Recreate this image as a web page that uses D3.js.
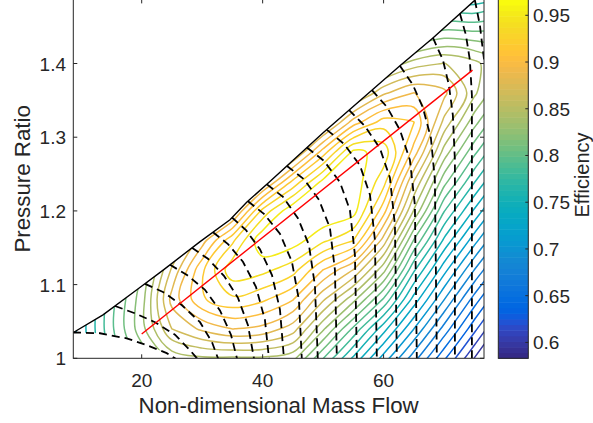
<!DOCTYPE html>
<html>
<head>
<meta charset="utf-8">
<title>Compressor map</title>
<script src="https://cdn.jsdelivr.net/npm/d3@7"></script>
<style>
  body { margin: 0; background: #fff; }
  svg text { font-family: "Liberation Sans", Arial, Helvetica, sans-serif; fill: #262626; }
</style>
</head>
<body>
<svg id="chart" width="593" height="423"></svg>
<script>
// ---------------- data ----------------
const xTicks = [20, 40, 60];
const yTicks = [1, 1.1, 1.2, 1.3, 1.4];
const cbTicks = [0.6, 0.65, 0.7, 0.75, 0.8, 0.85, 0.9, 0.95];
const effRange = [0.583, 0.967];
// 30 contour levels between min and max efficiency
const levels = [0.5954, 0.6078, 0.6202, 0.6326, 0.6450, 0.6573, 0.6697, 0.6821, 0.6945, 0.7069,
                0.7193, 0.7317, 0.7440, 0.7564, 0.7688, 0.7812, 0.7936, 0.8060, 0.8184, 0.8308,
                0.8431, 0.8555, 0.8679, 0.8803, 0.8927, 0.9051, 0.9175, 0.9298, 0.9422, 0.9546];

// efficiency on a regular grid (rows = pressure ratio, cols = mass flow)
const gridFlow = [5, 10, 15, 20, 25, 30, 35, 40, 45, 50, 55, 60, 65, 70, 75, 80];
const gridPR = [0.96, 1.00, 1.04, 1.08, 1.12, 1.16, 1.20, 1.24, 1.28, 1.32, 1.36, 1.40, 1.44, 1.48, 1.52];
const efficiency = [
  [.707,.738,.769,.781,.800,.806,.800,.794,.787,.750,.713,.676,.639,.602,.564,.527],
  [.713,.747,.784,.810,.835,.841,.841,.841,.835,.794,.754,.714,.675,.635,.595,.556],
  [.714,.750,.791,.826,.868,.883,.893,.889,.874,.833,.791,.749,.707,.665,.624,.583],
  [.711,.747,.789,.825,.885,.916,.927,.920,.906,.870,.835,.792,.739,.695,.652,.613],
  [.704,.740,.781,.818,.870,.915,.951,.946,.935,.905,.880,.835,.771,.724,.682,.642],
  [.697,.732,.771,.810,.849,.887,.927,.965,.961,.945,.930,.875,.805,.754,.712,.672],
  [.690,.723,.760,.797,.825,.856,.874,.934,.965,.967,.960,.910,.842,.782,.742,.702],
  [.682,.714,.749,.785,.800,.825,.825,.872,.920,.958,.963,.935,.868,.811,.770,.732],
  [.675,.706,.738,.773,.775,.794,.781,.812,.862,.911,.958,.950,.900,.838,.797,.760],
  [.667,.697,.727,.760,.750,.763,.738,.756,.806,.856,.899,.924,.918,.864,.823,.787],
  [.660,.688,.716,.748,.725,.732,.695,.701,.750,.800,.847,.878,.893,.884,.846,.812],
  [.652,.680,.704,.735,.701,.701,.657,.645,.695,.744,.794,.831,.849,.856,.847,.828],
  [.645,.671,.693,.723,.676,.670,.620,.595,.639,.688,.740,.781,.800,.812,.810,.810],
  [.638,.662,.682,.711,.651,.639,.583,.546,.583,.633,.687,.732,.750,.769,.769,.775],
  [.630,.654,.671,.698,.626,.608,.546,.496,.527,.577,.633,.682,.701,.725,.728,.738]
];

// surge line
const surgeFlow = [8.7, 13.6, 19.2, 23.6, 29.6, 34.6, 37.4, 41.2, 50.0, 62.7, 68.2, 75.1];
const surgePR = [1.035, 1.059, 1.093, 1.120, 1.158, 1.188, 1.212, 1.240, 1.306, 1.397, 1.435, 1.486];

// peak efficiency line
const peakFlow = [20, 74.7];
const peakPR = [1.033, 1.391];

// speed lines [flow, PR]
const speedLines = [
  [[8.64,1.035],[13.11,1.034],[17.52,1.027],[20.83,1.018],[24.13,1.007],[25.5,1.0],[26.0,0.995]],
  [[15.59,1.071],[18.89,1.061],[22.2,1.049],[25.5,1.032],[27.98,1.011],[29.14,1.0],[29.5,0.995]],
  [[20.55,1.101],[23.52,1.090],[26.66,1.072],[29.64,1.049],[31.62,1.022],[32.61,1.0],[32.78,0.995]],
  [[24.68,1.127],[27.49,1.113],[30.46,1.093],[32.94,1.065],[34.76,1.032],[35.75,1.0],[35.92,0.995]],
  [[28.31,1.150],[30.96,1.135],[33.6,1.112],[35.92,1.082],[37.57,1.045],[38.56,1.0],[38.73,0.995]],
  [[31.79,1.171],[34.27,1.155],[36.74,1.131],[38.89,1.097],[40.38,1.052],[41.04,1.0],[41.12,0.995]],
  [[34.93,1.191],[37.24,1.174],[39.55,1.148],[41.54,1.113],[42.86,1.066],[43.57,0.995]],
  [[37.57,1.213],[40.21,1.196],[42.86,1.169],[44.84,1.131],[46.0,1.079],[46.5,0.995]],
  [[40.71,1.236],[43.36,1.219],[45.83,1.190],[47.65,1.154],[48.64,1.099],[49.14,0.995]],
  [[44.02,1.261],[46.83,1.243],[49.31,1.215],[51.12,1.177],[51.95,1.120],[52.28,0.995]],
  [[47.32,1.286],[50.13,1.268],[52.78,1.239],[54.43,1.201],[55.26,1.140],[55.59,0.995]],
  [[50.63,1.310],[53.44,1.291],[56.08,1.262],[57.74,1.222],[58.56,1.161],[58.89,0.995]],
  [[54.26,1.337],[56.91,1.315],[59.39,1.285],[61.04,1.245],[61.87,1.181],[62.2,0.995]],
  [[58.07,1.364],[60.55,1.341],[62.69,1.310],[64.35,1.269],[65.17,1.208],[65.5,0.995]],
  [[62.69,1.397],[64.84,1.371],[66.5,1.340],[67.82,1.299],[68.48,1.242],[68.81,0.995]],
  [[68.15,1.435],[69.8,1.405],[70.79,1.371],[71.45,1.330],[71.79,1.268],[71.79,0.995]],
  [[72.61,1.468],[73.6,1.439],[74.26,1.405],[74.6,1.357],[74.6,0.995]],
  [[75.09,1.486],[75.92,1.452],[76.41,1.418],[77.07,1.378]]
];

// parula colormap (64)
const parula = [
[0.2081,0.1663,0.5292],[0.2116,0.1898,0.5777],[0.2123,0.2138,0.6270],[0.2081,0.2386,0.6771],
[0.1959,0.2645,0.7279],[0.1707,0.2919,0.7792],[0.1253,0.3242,0.8303],[0.0591,0.3598,0.8683],
[0.0117,0.3875,0.8820],[0.0060,0.4086,0.8828],[0.0165,0.4266,0.8786],[0.0329,0.4430,0.8720],
[0.0498,0.4586,0.8641],[0.0629,0.4737,0.8554],[0.0723,0.4887,0.8467],[0.0779,0.5040,0.8384],
[0.0793,0.5200,0.8312],[0.0749,0.5375,0.8263],[0.0641,0.5570,0.8240],[0.0488,0.5772,0.8228],
[0.0343,0.5966,0.8199],[0.0265,0.6137,0.8135],[0.0239,0.6287,0.8038],[0.0231,0.6418,0.7913],
[0.0228,0.6535,0.7768],[0.0267,0.6642,0.7607],[0.0384,0.6743,0.7436],[0.0590,0.6838,0.7254],
[0.0843,0.6928,0.7062],[0.1133,0.7015,0.6859],[0.1453,0.7098,0.6646],[0.1801,0.7177,0.6424],
[0.2178,0.7250,0.6193],[0.2586,0.7317,0.5954],[0.3022,0.7376,0.5712],[0.3482,0.7424,0.5473],
[0.3953,0.7459,0.5244],[0.4420,0.7481,0.5033],[0.4871,0.7491,0.4840],[0.5300,0.7491,0.4661],
[0.5709,0.7485,0.4494],[0.6099,0.7473,0.4337],[0.6473,0.7456,0.4188],[0.6834,0.7435,0.4044],
[0.7184,0.7411,0.3905],[0.7525,0.7384,0.3768],[0.7858,0.7356,0.3633],[0.8185,0.7327,0.3498],
[0.8507,0.7299,0.3360],[0.8824,0.7274,0.3217],[0.9139,0.7258,0.3063],[0.9450,0.7261,0.2886],
[0.9739,0.7314,0.2666],[0.9938,0.7455,0.2403],[0.9990,0.7653,0.2164],[0.9955,0.7861,0.1967],
[0.9880,0.8066,0.1794],[0.9789,0.8271,0.1633],[0.9697,0.8481,0.1475],[0.9626,0.8705,0.1309],
[0.9589,0.8949,0.1132],[0.9598,0.9218,0.0948],[0.9661,0.9514,0.0755],[0.9763,0.9831,0.0538]
].map(c => d3.rgb(c[0] * 255, c[1] * 255, c[2] * 255).formatHex());

// ---------------- layout ----------------
const axisColor = "#262626";
const plot = { left: 73.3, right: 484, top: -0.6, bottom: 358.3 };
const bar = { left: 498.3, right: 528.3 };

const x = d3.scaleLinear().domain([8.69, 76.6]).range([plot.left, plot.right]);
const y = d3.scaleLinear().domain([1, 1.487]).range([plot.bottom, plot.top]);
const cy = d3.scaleLinear().domain(effRange).range([plot.bottom, plot.top]);
const colorIndex = d3.scaleQuantize().domain(effRange).range(d3.range(64));
const color = v => parula[colorIndex(v)];

const svg = d3.select("#chart");
svg.append("rect").attr("width", 593).attr("height", 423).attr("fill", "#fff");

const line = d3.line().x(d => x(d[0])).y(d => y(d[1]));
const surge = surgeFlow.map((f, i) => [f, surgePR[i]]);
const peak = peakFlow.map((f, i) => [f, peakPR[i]]);

const defs = svg.append("defs");
defs.append("clipPath").attr("id", "axclip").append("rect")
  .attr("x", plot.left).attr("y", plot.top)
  .attr("width", plot.right - plot.left).attr("height", plot.bottom - plot.top);
const domainPts = surge.concat([[77.5, 1.52], [77.5, 0.98], [26.5, 0.98]], speedLines[0].slice().reverse());
defs.append("clipPath").attr("id", "domclip").append("path")
  .attr("d", line(domainPts) + "Z");

const gAx = svg.append("g").attr("clip-path", "url(#axclip)");

// contours: d3.contours on the grid, rings mapped to data then screen space
const f0 = gridFlow[0], df = gridFlow[1] - gridFlow[0];
const p0 = gridPR[0], dp = gridPR[1] - gridPR[0];
const toScreen = ([gx, gy]) => [x(f0 + (gx - 0.5) * df), y(p0 + (gy - 0.5) * dp)];
const ringLine = d3.line().curve(d3.curveCatmullRomClosed.alpha(0.5));
const contours = d3.contours()
  .size([gridFlow.length, gridPR.length])
  .thresholds(levels)(efficiency.flat());
const contourPath = c => c.coordinates
  .flatMap(poly => poly.map(ring => ringLine(ring.slice(0, -1).map(toScreen))))
  .join("");

gAx.append("g").attr("clip-path", "url(#domclip)")
  .selectAll("path").data(contours).join("path")
  .attr("d", contourPath)
  .attr("fill", "none")
  .attr("stroke", d => color(d.value))
  .attr("stroke-width", 1.5)
  .attr("stroke-linejoin", "round");

// speed lines
gAx.append("g").selectAll("path").data(speedLines).join("path")
  .attr("d", line)
  .attr("fill", "none").attr("stroke", "#000")
  .attr("stroke-width", 1.8).attr("stroke-dasharray", "8,5");

// surge line and peak line
gAx.append("path").attr("d", line(surge)).attr("fill", "none")
  .attr("stroke", "#000").attr("stroke-width", 1.4);
gAx.append("path").attr("d", line(peak)).attr("fill", "none")
  .attr("stroke", "#ff0000").attr("stroke-width", 1.4);

// axes box and ticks
const gA = svg.append("g");
gA.append("rect").attr("x", plot.left).attr("y", plot.top)
  .attr("width", plot.right - plot.left).attr("height", plot.bottom - plot.top)
  .attr("fill", "none").attr("stroke", axisColor).attr("stroke-width", 1);
const tl = 4;
xTicks.forEach(t => {
  gA.append("line").attr("x1", x(t)).attr("x2", x(t)).attr("y1", plot.bottom).attr("y2", plot.bottom - tl).attr("stroke", axisColor);
  gA.append("line").attr("x1", x(t)).attr("x2", x(t)).attr("y1", plot.top).attr("y2", plot.top + tl).attr("stroke", axisColor);
  gA.append("text").attr("x", x(t)).attr("y", 387).attr("text-anchor", "middle")
    .attr("font-size", 19).text(t);
});
yTicks.forEach(t => {
  gA.append("line").attr("x1", plot.left).attr("x2", plot.left + tl).attr("y1", y(t)).attr("y2", y(t)).attr("stroke", axisColor);
  gA.append("line").attr("x1", plot.right).attr("x2", plot.right - tl).attr("y1", y(t)).attr("y2", y(t)).attr("stroke", axisColor);
  gA.append("text").attr("x", 66).attr("y", y(t) + 7).attr("text-anchor", "end")
    .attr("font-size", 19).text(t);
});
gA.append("text").attr("x", (plot.left + plot.right) / 2).attr("y", 413)
  .attr("text-anchor", "middle").attr("font-size", 22.3).text("Non-dimensional Mass Flow");
gA.append("text").attr("transform", `translate(29.5,${(plot.top + plot.bottom) / 2}) rotate(-90)`)
  .attr("text-anchor", "middle").attr("font-size", 22.3).text("Pressure Ratio");

// colorbar
const gC = svg.append("g");
const span = (effRange[1] - effRange[0]) / 64;
gC.selectAll("rect.band").data(d3.range(64)).join("rect").attr("class", "band")
  .attr("x", bar.left).attr("width", bar.right - bar.left)
  .attr("y", k => cy(effRange[0] + (k + 1) * span))
  .attr("height", k => cy(effRange[0] + k * span) - cy(effRange[0] + (k + 1) * span) + 0.5)
  .attr("fill", k => parula[k]);
gC.append("rect").attr("x", bar.left).attr("y", plot.top)
  .attr("width", bar.right - bar.left).attr("height", plot.bottom - plot.top)
  .attr("fill", "none").attr("stroke", axisColor).attr("stroke-width", 1);
cbTicks.forEach(t => {
  gC.append("line").attr("x1", bar.right).attr("x2", bar.right - 3).attr("y1", cy(t)).attr("y2", cy(t)).attr("stroke", axisColor);
  gC.append("text").attr("x", 533).attr("y", cy(t) + 7).attr("font-size", 19).text(t);
});
gC.append("text").attr("transform", `translate(589,175) rotate(-90)`)
  .attr("text-anchor", "middle").attr("font-size", 20).text("Efficiency");
</script>
</body>
</html>
